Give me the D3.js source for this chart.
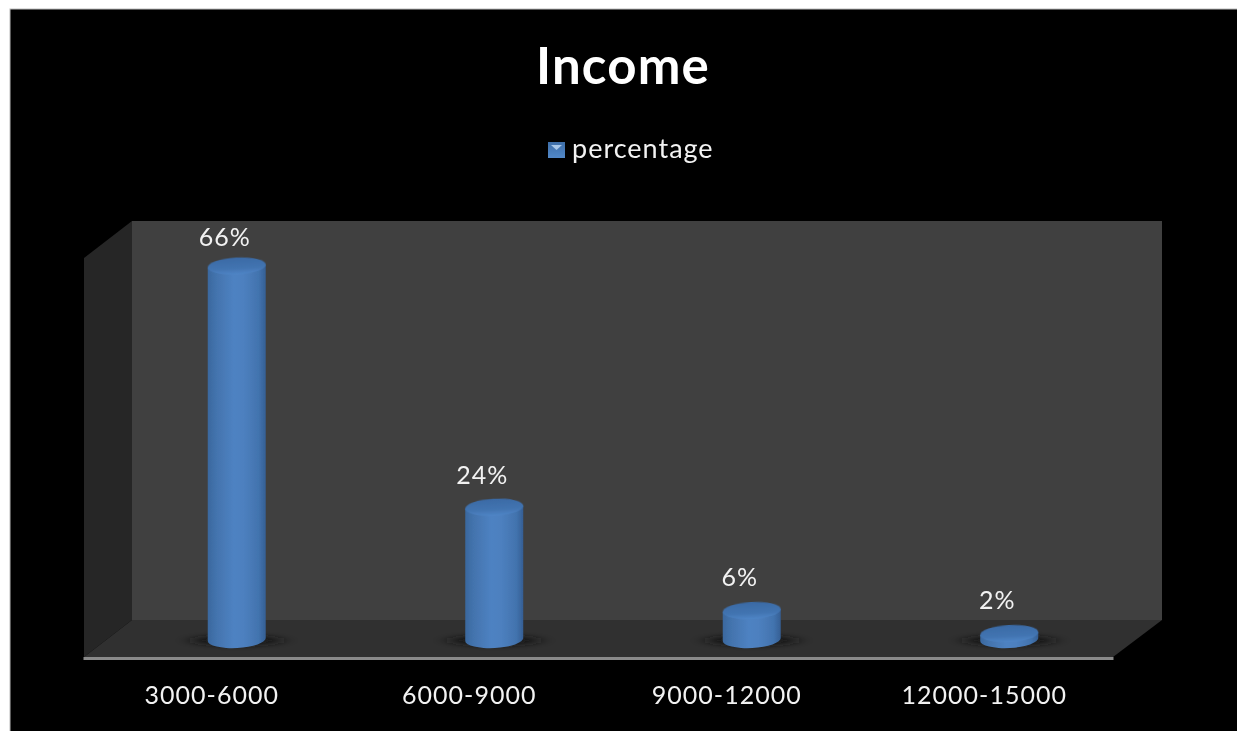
<!DOCTYPE html>
<html><head><meta charset="utf-8">
<script src="https://cdnjs.cloudflare.com/ajax/libs/d3/7.8.5/d3.min.js"></script>
<style>html,body{margin:0;padding:0;background:#fff;overflow:hidden}svg{display:block}text{font-family:Lato,"Open Sans",sans-serif}</style>
</head><body><div id="chart"></div>
<script>
const categories = ["3000-6000","6000-9000","9000-12000","12000-15000"];
const percentages = [66,24,6,2];
const seriesName = "percentage";
const titleText = "Income";

const W=1237,H=731;
const svg=d3.select("#chart").append("svg").attr("width",W).attr("height",H);
const defs=svg.append("defs");
const grad=defs.append("linearGradient").attr("id","cyl").attr("x1",0).attr("x2",1).attr("y1",0).attr("y2",0);
[[0,"#3a689e"],[0.14,"#4373ad"],[0.45,"#4e82c2"],[0.62,"#4d80bf"],[0.88,"#4273ae"],[1,"#355f94"]].forEach(s=>grad.append("stop").attr("offset",s[0]).attr("stop-color",s[1]));
const topGrad=defs.append("linearGradient").attr("id","cap").attr("x1",0).attr("x2",0).attr("y1",0).attr("y2",1);
[[0,"#3a6aa5"],[0.65,"#4274b1"],[1,"#4f85c6"]].forEach(s=>topGrad.append("stop").attr("offset",s[0]).attr("stop-color",s[1]));
const lg=defs.append("linearGradient").attr("id","lg").attr("x1",0).attr("x2",0).attr("y1",0).attr("y2",1);
[[0,"#3e6ea8"],[1,"#5288c8"]].forEach(s=>lg.append("stop").attr("offset",s[0]).attr("stop-color",s[1]));
defs.append("filter").attr("id","sh").attr("x","-40%").attr("y","-150%").attr("width","180%").attr("height","400%")
  .append("feGaussianBlur").attr("stdDeviation","9 2.5");
defs.append("filter").attr("id","soft").attr("x","-5%").attr("y","-5%").attr("width","110%").attr("height","110%").append("feGaussianBlur").attr("stdDeviation",0.5);

// frame: only the top and left edges show, the black runs off the picture
svg.append("rect").attr("x",10).attr("y",9).attr("width",W).attr("height",H).attr("fill","#000").attr("stroke","#bbb").attr("stroke-width",1);

// scales
const x=d3.scaleBand().domain(categories).range([83,1113]);
const y=d3.scaleLinear().domain([0,66]).range([645,266]);
const labelY=d3.scaleLinear().domain([2,66]).range([609,246]);
const depthX=25, baseY=639.5, rx=29, ry=8.5, tilt=-3;

// walls
const line=d3.line();
svg.append("path").attr("d",line([[132,221],[1162,221],[1162,620],[132,620]])+"Z").attr("fill","#404040");
svg.append("path").attr("d",line([[84,258],[132,221],[132,620],[84,657]])+"Z").attr("fill","#262626");
svg.append("path").attr("d",line([[132,620],[1162,620],[1113,657],[84,657]])+"Z").attr("fill","#303030");

// axis
const axis=svg.append("g").attr("transform","translate(0,658)").call(d3.axisBottom(x).tickSize(0).tickPadding(28));
axis.select(".domain").attr("stroke","#8a8a8a").attr("stroke-width",3);
axis.selectAll("text").attr("fill","#f2f2f2").attr("font-size",25).attr("font-family","Lato").attr("letter-spacing",1).attr("filter","url(#soft)");

// bars
const g=svg.append("g").selectAll("g").data(percentages).join("g")
  .attr("transform",(d,i)=>`translate(${x(categories[i])+x.bandwidth()/2+depthX},0)`);
g.append("ellipse").attr("cx",0).attr("cy",baseY+1).attr("rx",rx+16).attr("ry",5).attr("fill","#161616").attr("filter","url(#sh)");
g.append("path").attr("fill","url(#cyl)").attr("filter","url(#soft)").attr("d",d=>{
  const t=y(d), dy=Math.tan(tilt*Math.PI/180)*rx;
  return `M${-rx},${t-dy} L${-rx},${baseY-dy} A${rx},${ry} ${tilt} 0 0 ${rx},${baseY+dy} L${rx},${t+dy} Z`;
});
g.append("ellipse").attr("cx",0).attr("cy",d=>y(d)).attr("rx",rx).attr("ry",ry)
  .attr("transform",d=>`rotate(${tilt} 0 ${y(d)})`).attr("fill","url(#cap)").attr("filter","url(#soft)");

// value labels
svg.append("g").selectAll("text").data(percentages).join("text")
  .attr("x",(d,i)=>x(categories[i])+x.bandwidth()/2+depthX-12)
  .attr("y",d=>labelY(d))
  .attr("text-anchor","middle").attr("fill","#f2f2f2").attr("font-size",25).attr("letter-spacing",1).attr("filter","url(#soft)")
  .text(d=>d+"%");

// title
svg.append("text").attr("x",623).attr("y",84).attr("text-anchor","middle").attr("fill","#fff")
  .attr("font-size",51).attr("letter-spacing",1.2).attr("font-weight",700).text(titleText);

// legend
const leg=svg.append("g");
leg.append("rect").attr("x",548).attr("y",142).attr("width",17).attr("height",16).attr("fill","url(#lg)").attr("filter","url(#soft)");
leg.append("path").attr("d",line([[551,145],[562,145],[556.5,150]])+"Z").attr("fill","#a9c8ea").attr("filter","url(#soft)");
leg.append("text").attr("x",572).attr("y",158).attr("fill","#f2f2f2").attr("font-size",27).attr("letter-spacing",1).attr("filter","url(#soft)").text(seriesName);
</script></body></html>
